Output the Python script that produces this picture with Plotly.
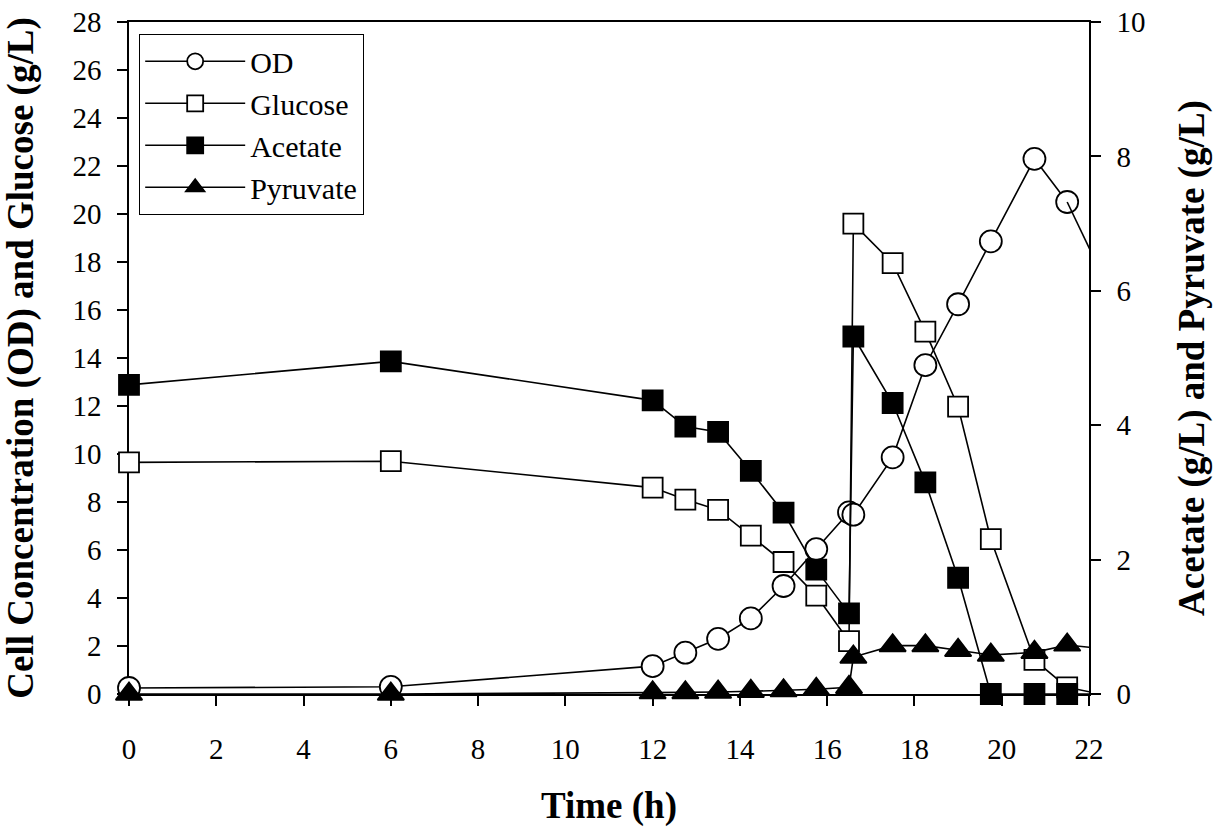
import plotly.graph_objects as go

# Data
time_h = [0, 6, 12, 12.75, 13.5, 14.25, 15, 15.75, 16.5, 16.6, 17.5, 18.25, 19, 19.75, 20.75, 21.5, 22.25]
od = [0.25, 0.3, 1.16, 1.72, 2.3, 3.15, 4.5, 6.04, 7.57, 7.47, 9.86, 13.7, 16.24, 18.86, 22.3, 20.5, 17.65]
glucose = [9.65, 9.7, 8.6, 8.1, 7.67, 6.6, 5.5, 4.1, 2.2, 19.6, 17.95, 15.1, 11.97, 6.45, 1.42, 0.28, 0.0]
acetate = [4.6, 4.95, 4.37, 3.98, 3.9, 3.32, 2.7, 1.85, 1.2, 5.32, 4.33, 3.15, 1.73, 0, 0, 0, 0]
pyruvate = [0.0, 0.0, 0.02, 0.02, 0.03, 0.04, 0.05, 0.07, 0.1, 0.55, 0.72, 0.72, 0.65, 0.58, 0.62, 0.73, 0.68]

x_ticks = list(range(0, 23, 2))
y1_ticks = list(range(0, 29, 2))
y2_ticks = list(range(0, 11, 2))

FONT = "Times New Roman, Liberation Serif, serif"
LW = 1.6

series = [
    ("OD", od, "y", dict(symbol="circle", size=22, color="white")),
    ("Glucose", glucose, "y", dict(symbol="square", size=20, color="white")),
    ("Acetate", acetate, "y2", dict(symbol="square", size=20, color="black")),
    ("Pyruvate", pyruvate, "y2", dict(symbol="triangle-up", size=23, color="black")),
]

fig = go.Figure()
for name, vals, yax, mk in series:
    mk = dict(mk)
    mk["line"] = dict(color="black", width=1.8)
    # visible points (within x range)
    fig.add_trace(go.Scatter(
        x=time_h[:-1], y=vals[:-1], name=name, yaxis=yax,
        mode="lines+markers", line=dict(color="black", width=LW),
        marker=mk, cliponaxis=False,
    ))
    # trailing segment running past the right edge (clipped)
    fig.add_trace(go.Scatter(
        x=time_h[-2:], y=vals[-2:], yaxis=yax, mode="lines",
        line=dict(color="black", width=LW), showlegend=False,
        cliponaxis=True, hoverinfo="skip",
    ))

axis_common = dict(
    showline=True, linecolor="black", linewidth=1.5,
    ticks="outside", ticklen=10, tickwidth=1.5, tickcolor="black",
    showgrid=False, zeroline=False, layer="below traces", automargin=False,
    ticklabeloverflow="allow",
    tickfont=dict(family=FONT, size=29, color="black"),
)

TITLE_FONT = dict(family=FONT, size=37, color="black")

fig.update_layout(
    width=1221, height=827,
    margin=dict(l=129, r=132, t=22, b=133),
    paper_bgcolor="white", plot_bgcolor="white",
    font=dict(family=FONT, color="black"),
    xaxis=dict(
        range=[0, 22], tickmode="array", tickvals=x_ticks,
        mirror=True, ticklabelstandoff=18,
        title=dict(text="<b>Time (h)</b>", font=TITLE_FONT, standoff=33),
        **axis_common,
    ),
    yaxis=dict(
        range=[0, 28], tickmode="array", tickvals=y1_ticks,
        ticklabelstandoff=10,
        title=dict(text="<b>Cell Concentration (OD) and Glucose (g/L)</b>",
                   font=TITLE_FONT, standoff=33),
        **axis_common,
    ),
    yaxis2=dict(
        range=[0, 10], tickmode="array", tickvals=y2_ticks,
        overlaying="y", side="right", ticklabelstandoff=10,
        title=dict(text="<b>Acetate (g/L) and Pyruvate (g/L)</b>",
                   font=TITLE_FONT, standoff=34),
        **axis_common,
    ),
    legend=dict(
        x=0.0104, y=0.982, xanchor="left", yanchor="top",
        bgcolor="white", bordercolor="black", borderwidth=1.2,
        font=dict(family=FONT, size=30, color="black"),
        itemwidth=100,
    ),
    showlegend=True,
)

# remove the default 8px page margin so the figure fills the window exactly
fig.write_html(
    "out.html",
    config={"displayModeBar": False},
    post_script="document.body.style.margin='0px';",
)
